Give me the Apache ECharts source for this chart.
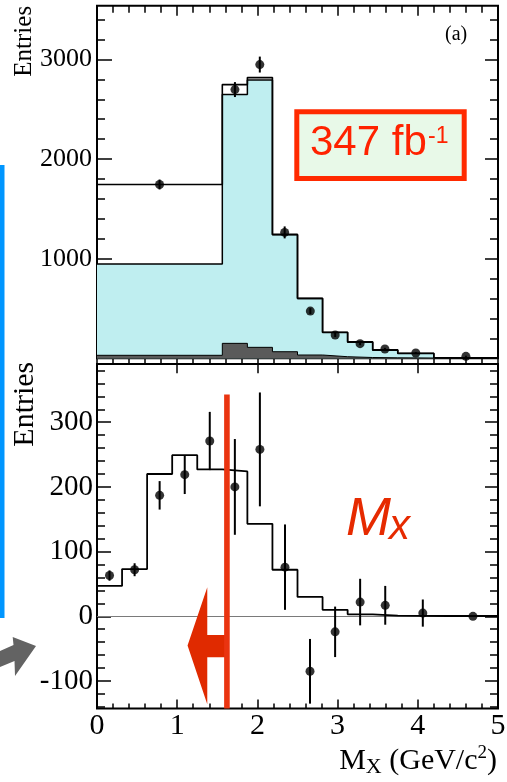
<!DOCTYPE html>
<html lang="en">
<head>
<meta charset="UTF-8">
<title>M_X distribution</title>
<script src="https://cdn.jsdelivr.net/npm/echarts@6/dist/echarts.min.js"></script>
<style>
    html, body { margin: 0; padding: 0; background: #fff; }
    #chart { width: 507px; height: 782px; }
</style>
</head>
<body>
<div id="chart"></div>
<script>
    // ---- upper panel (a): bin edges, stacked MC and data ----
    var topEdges = [0, 1.5625, 1.875, 2.1875, 2.5, 2.8125, 3.125, 3.4375, 3.75, 4.2, 5];
    var topTotal = [1745, 2748, 2818, 1244, 602, 261, 165, 85, 50, 6];
    var topCyan  = [946, 2648, 2795, 1240, 600, 258, 162, 82, 47, 6];   // dark + cyan
    var topDark  = [30, 150, 110, 66, 33, 16, 8, 5, 3, 0];
    var topX     = [0.78, 1.72, 2.03, 2.34, 2.66, 2.97, 3.28, 3.59, 3.975, 4.6];
    var topY     = [1745, 2698, 2949, 1264, 474, 234, 147, 93, 53, 20];
    var topErr   = [50, 75, 80, 60, 30, 20, 15, 12, 10, 6];

    // ---- lower panel ----
    var botEdges = [0, 0.3125, 0.625, 0.9375, 1.25, 1.5625, 1.875, 2.1875, 2.5, 2.8125, 3.125, 3.4375, 3.75, 4.375, 5];
    var botHist  = [47, 73, 220, 249, 227, 224, 143, 72, 30, 10, 3, 1, 0.5, 0.5];
    var botX     = [0.156, 0.469, 0.781, 1.094, 1.406, 1.719, 2.031, 2.344, 2.656, 2.969, 3.281, 3.594, 4.0625, 4.6875];
    var botY     = [63, 72, 187, 219, 271, 200, 258, 76, -85, -24, 22, 17, 5, 0];
    var botErr   = [8, 10, 22, 30, 45, 74, 88, 66, 50, 39, 36, 30, 21, 0];

    // cut on M_X and the arrow that points to the kept side
    var cutX = 1.62, cutTop = 343;
    var arrowPts = [[1.62, -28.7], [1.375, -28.7], [1.375, 45], [1.129, -45], [1.375, -136], [1.375, -63.3], [1.62, -63.3]];

    // ticks
    var topYLabels = [1000, 2000, 3000];
    var botYLabels = [-100, 0, 100, 200, 300];
    var topMinor = [], botMinor = [];
    for (var t = 200; t <= 3400; t += 200) topMinor.push(t);
    for (var u = -140; u <= 380; u += 20) botMinor.push(u);

    var serif = 'Liberation Serif';
    var sans = 'Liberation Sans';

    function steps(edges, h) {
        var pts = [];
        for (var i = 0; i < h.length; i++) {
            pts.push([edges[i], h[i]], [edges[i + 1], h[i]]);
        }
        return pts;
    }
    function zip3(a, b, c) {
        return a.map(function (v, i) { return [v, b[i], c[i]]; });
    }

    function xAxisOf(grid, pos, len, minorLen, inside, showLabel) {
        return {
            type: 'value', gridIndex: grid, position: pos, min: 0, max: 5, interval: 1,
            axisLine: { show: false, onZero: false },
            splitLine: { show: false },
            axisTick: { show: true, inside: inside, length: len, lineStyle: { color: '#000', width: 1.5 } },
            minorTick: { show: true, splitNumber: 5, length: minorLen, lineStyle: { color: '#000', width: 1.5 } },
            axisLabel: { show: showLabel, fontFamily: serif, fontSize: 30, color: '#000', margin: 3, showMinLabel: true, showMaxLabel: true }
        };
    }
    function yAxisOf(grid, pos, min, max, ticks, len, labels, fontSize, margin) {
        return {
            type: 'value', gridIndex: grid, position: pos, min: min, max: max,
            axisLine: { show: false, onZero: false },
            splitLine: { show: false },
            axisTick: { show: true, inside: true, length: len, customValues: ticks, lineStyle: { color: '#000', width: 1.5 } },
            axisLabel: labels ? {
                show: true, customValues: labels, fontFamily: serif, fontSize: fontSize, color: '#000', margin: margin,
                formatter: function (v) { return String(v); }
            } : { show: false }
        };
    }

    function errBar(params, api) {
        var x = api.value(0), y = api.value(1), e = api.value(2);
        var a = api.coord([x, y + e]), b = api.coord([x, y - e]);
        return { type: 'line', shape: { x1: a[0], y1: a[1], x2: b[0], y2: b[1] }, style: { stroke: '#000', lineWidth: 2 } };
    }

    function cutMarks(params, api) {
        var top = api.coord([cutX, cutTop]);
        var bot = api.coord([cutX, -142.5]);
        var poly = arrowPts.map(function (p) { return api.coord(p); });
        return {
            type: 'group',
            children: [
                { type: 'polygon', shape: { points: poly }, style: { fill: '#e02a00' } },
                { type: 'rect', shape: { x: top[0] - 2.8, y: top[1], width: 5.6, height: bot[1] - top[1] }, style: { fill: '#ea3410' } }
            ]
        };
    }

    var myChart = echarts.init(document.getElementById('chart'));

    var option = {
        animation: false,
        backgroundColor: '#fff',
        grid: [
            { left: 97, right: 9, top: 5.7, bottom: 423.7, show: true, borderColor: '#000', borderWidth: 2, outerBoundsMode: 'none' },
            { left: 97, right: 9, top: 364, bottom: 73.5, show: true, borderColor: '#000', borderWidth: 2, outerBoundsMode: 'none' }
        ],
        xAxis: [
            xAxisOf(0, 'bottom', 15, 6, false, false),
            xAxisOf(0, 'top', 10, 7, true, false),
            xAxisOf(1, 'bottom', 9, 5, true, true)
        ],
        yAxis: [
            yAxisOf(0, 'left', 0, 3540, topYLabels, 15, topYLabels, 26, 5),
            yAxisOf(0, 'left', 0, 3540, topMinor, 8),
            yAxisOf(0, 'right', 0, 3540, topYLabels, 13),
            yAxisOf(0, 'right', 0, 3540, topMinor, 8),
            yAxisOf(1, 'left', -142.5, 390, botYLabels, 14, botYLabels, 29, 4),
            yAxisOf(1, 'left', -142.5, 390, botMinor, 8),
            yAxisOf(1, 'right', -142.5, 390, botYLabels, 13),
            yAxisOf(1, 'right', -142.5, 390, botMinor, 8)
        ],
        series: [
            {
                name: 'cyan', type: 'line', xAxisIndex: 0, yAxisIndex: 0, z: 1,
                data: steps(topEdges, topCyan), symbol: 'none',
                lineStyle: { color: '#000', width: 1.5 },
                areaStyle: { color: '#bfeef0', opacity: 1 }
            },
            {
                name: 'dark', type: 'line', xAxisIndex: 0, yAxisIndex: 0, z: 2,
                data: steps(topEdges, topDark), symbol: 'none',
                lineStyle: { color: '#000', width: 1 },
                areaStyle: { color: '#5a5a5a', opacity: 1 }
            },
            {
                name: 'total', type: 'line', xAxisIndex: 0, yAxisIndex: 0, z: 3,
                data: steps(topEdges, topTotal), symbol: 'none',
                lineStyle: { color: '#000', width: 1.6 }
            },
            {
                name: 'topErr', type: 'custom', xAxisIndex: 0, yAxisIndex: 0, z: 4,
                renderItem: errBar, data: zip3(topX, topY, topErr), encode: { x: 0, y: 1 }
            },
            {
                name: 'topData', type: 'scatter', xAxisIndex: 0, yAxisIndex: 0, z: 5,
                data: topX.map(function (x, i) { return [x, topY[i]]; }),
                symbol: 'circle', symbolSize: 9, itemStyle: { color: '#000' }
            },
            {
                name: 'botHist', type: 'line', xAxisIndex: 2, yAxisIndex: 4, z: 3,
                data: steps(botEdges, botHist), symbol: 'none',
                lineStyle: { color: '#000', width: 1.8 },
                markLine: {
                    silent: true, symbol: 'none', label: { show: false }, z: 1,
                    lineStyle: { color: '#7a7a7a', width: 1, type: 'solid' },
                    data: [{ yAxis: 0 }]
                }
            },
            {
                name: 'botErr', type: 'custom', xAxisIndex: 2, yAxisIndex: 4, z: 4,
                renderItem: errBar, data: zip3(botX, botY, botErr), encode: { x: 0, y: 1 }
            },
            {
                name: 'botData', type: 'scatter', xAxisIndex: 2, yAxisIndex: 4, z: 5,
                data: botX.map(function (x, i) { return [x, botY[i]]; }),
                symbol: 'circle', symbolSize: 9, itemStyle: { color: '#000' }
            },
            {
                name: 'cut', type: 'custom', xAxisIndex: 2, yAxisIndex: 4, z: 6,
                renderItem: cutMarks, data: [[cutX, 0]], encode: { x: 0, y: 1 }
            }
        ],
        graphic: [
            // blue bar and grey arrow on the left margin
            { type: 'rect', shape: { x: 0, y: 165, width: 4.5, height: 453 }, style: { fill: '#0096ff' } },
            {
                type: 'polygon',
                shape: { points: [[0, 651], [13.5, 645], [12.7, 637], [36, 646], [15, 676], [14.5, 661], [0, 667]] },
                style: { fill: '#636363' }
            },
            // luminosity box
            { type: 'rect', shape: { x: 296.8, y: 111.8, width: 167.4, height: 66.7 }, style: { fill: '#e8f9e8', stroke: '#ff2a00', lineWidth: 5 }, z: 10 },
            { type: 'text', x: 310, y: 143.6, z: 11, style: { text: '347 fb', font: '42px ' + sans, fill: '#ff2200', verticalAlign: 'middle' } },
            { type: 'text', x: 428, y: 136.2, z: 11, style: { text: '-1', font: '23px ' + sans, fill: '#ff2200', verticalAlign: 'middle' } },
            { type: 'text', x: 445, y: 34.6, z: 11, style: { text: '(a)', font: '20px ' + serif, fill: '#000', verticalAlign: 'middle' } },
            // M_x label
            { type: 'text', x: 346, y: 519.6, z: 11, style: { text: 'M', font: 'italic 54px ' + sans, fill: '#e62a00', verticalAlign: 'middle' } },
            { type: 'text', x: 389, y: 527.1, z: 11, style: { text: 'x', font: 'italic 42px ' + sans, fill: '#e62a00', verticalAlign: 'middle' } },
            // axis titles
            { type: 'text', x: 24.2, y: 76.7, rotation: Math.PI / 2, style: { text: 'Entries', font: '25px ' + serif, fill: '#000', align: 'left', verticalAlign: 'middle' } },
            { type: 'text', x: 24.9, y: 446.7, rotation: Math.PI / 2, style: { text: 'Entries', font: '30px ' + serif, fill: '#000', align: 'left', verticalAlign: 'middle' } },
            {
                type: 'text', x: 497, y: 760.9,
                style: {
                    text: '{m|M}{s|X}{m| (GeV/c}{p|2}{m|)}', align: 'right', verticalAlign: 'middle',
                    rich: {
                        m: { fontFamily: serif, fontSize: 30, lineHeight: 34, verticalAlign: 'middle', fill: '#000' },
                        s: { fontFamily: serif, fontSize: 22, lineHeight: 16.6, verticalAlign: 'bottom', fill: '#000' },
                        p: { fontFamily: serif, fontSize: 19, lineHeight: 22.4, verticalAlign: 'top', fill: '#000' }
                    }
                }
            }
        ]
    };

    myChart.setOption(option);
</script>
</body>
</html>
